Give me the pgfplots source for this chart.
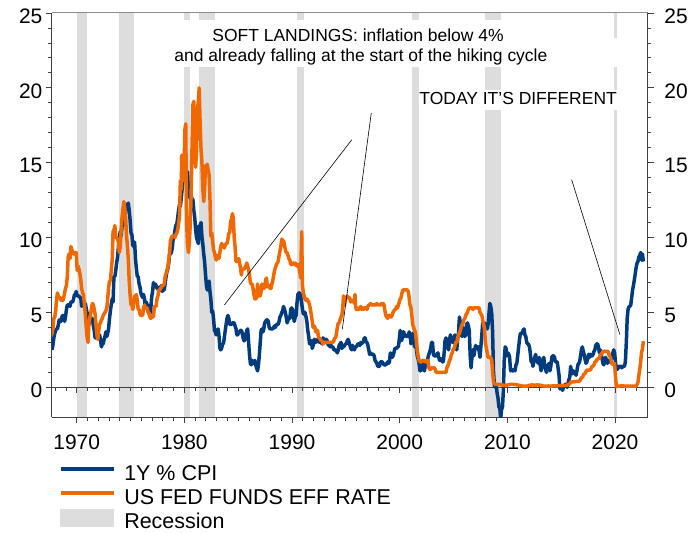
\documentclass[border=0pt]{standalone}
\usepackage{pgfplots}
\pgfplotsset{compat=1.18}
\usepackage{fontspec}
\setmainfont{Liberation Sans}
\definecolor{cpiblue}{RGB}{0,60,125}
\definecolor{ffor}{RGB}{240,105,0}
\definecolor{recgray}{RGB}{221,221,221}
\definecolor{axisgray}{RGB}{64,64,64}
\definecolor{topgray}{RGB}{140,140,140}
\pgfplotsset{
  cpileg/.style={legend image code/.code={\draw[cpiblue, line width=3.5pt] (0pt,0pt) -- (53pt,0pt);}},
  ffleg/.style={legend image code/.code={\draw[ffor, line width=3.5pt] (0pt,0pt) -- (53pt,0pt);}},
  recleg/.style={legend image code/.code={\fill[recgray] (0pt,-9pt) rectangle (53pt,7.5pt);}},
}
\begin{document}
\begin{tikzpicture}
\begin{axis}[
  name=main,
  scale only axis, width=597pt, height=405pt,
  xmin=1967.7, xmax=2023.05, ymin=-2, ymax=25,
  axis lines=left,
  axis line style={-, draw=axisgray, line width=1pt},
  xtick={1970,1980,...,2020},
  minor x tick num=9,
  ytick={0,5,...,25},
  minor y tick num=4,
  tick align=outside,
  major tick length=6pt, minor tick length=3.5pt,
  tick style={axisgray, line width=0.8pt},
  /pgf/number format/1000 sep={},
  /pgf/number format/assume math mode=true,
  ticklabel style={font=\fontsize{21}{21}\selectfont},
  yticklabel style={yshift=-3pt},
  xticklabel style={yshift=-8pt},
  legend style={draw=none, fill=none, at={(0,0)}, anchor=north west,
    xshift=7pt, yshift=-40pt, inner sep=0pt, outer sep=0pt, row sep=0pt,
    font=\fontsize{21.5}{21.5}\selectfont,
    nodes={inner sep=0pt, text height=23.5pt, text depth=0.5pt},
    /tikz/every odd column/.append style={column sep=9pt}},
  legend cell align=left,
]
% recessions
\addplot[fill=recgray, draw=none, forget plot] coordinates {(1970.00,-2) (1970.00,25) (1970.94,25) (1970.94,-2)} -- cycle;
\addplot[fill=recgray, draw=none, forget plot] coordinates {(1973.90,-2) (1973.90,25) (1975.29,25) (1975.29,-2)} -- cycle;
\addplot[fill=recgray, draw=none, forget plot] coordinates {(1980.00,-2) (1980.00,25) (1980.57,25) (1980.57,-2)} -- cycle;
\addplot[fill=recgray, draw=none, forget plot] coordinates {(1981.40,-2) (1981.40,25) (1982.84,25) (1982.84,-2)} -- cycle;
\addplot[fill=recgray, draw=none, forget plot] coordinates {(1990.48,-2) (1990.48,25) (1991.13,25) (1991.13,-2)} -- cycle;
\addplot[fill=recgray, draw=none, forget plot] coordinates {(2001.13,-2) (2001.13,25) (2001.77,25) (2001.77,-2)} -- cycle;
\addplot[fill=recgray, draw=none, forget plot] coordinates {(2007.89,-2) (2007.89,25) (2009.37,25) (2009.37,-2)} -- cycle;
\addplot[fill=recgray, draw=none, forget plot] coordinates {(2019.92,-2) (2019.92,25) (2020.20,25) (2020.20,-2)} -- cycle;
% white boxes behind annotations
\fill[white] (axis cs:1979.09,24.53) rectangle (axis cs:2018.44,22.93);
\fill[white] (axis cs:1979.09,23.33) rectangle (axis cs:2020.48,21.40);
\fill[white] (axis cs:2001.77,19.87) rectangle (axis cs:2020.48,18.53);
% zero line
\draw[axisgray, line width=1pt] (axis cs:1967.7,0) -- (axis cs:2023.05,0);
\pgfplotsinvokeforeach{1968,...,2022}{\draw[axisgray, line width=0.8pt] (axis cs:#1,0) -- ++(0pt,-3.5pt);}
\pgfplotsinvokeforeach{1970,1980,...,2020}{\draw[axisgray, line width=0.8pt] (axis cs:#1,0) -- ++(0pt,-6pt);}
% CPI
\addplot[cpiblue, line width=3.5pt, line join=round, cpileg] coordinates {
(1967.70,2.5) (1967.79,2.8) (1967.88,3.3) (1967.96,3.6) (1968.05,3.8) (1968.13,3.9) (1968.21,3.9) (1968.30,4.2) (1968.38,4.5) (1968.46,4.4) (1968.55,4.4) (1968.63,4.7) (1968.71,4.8) (1968.80,4.7)
(1968.88,4.4) (1968.96,4.7) (1969.05,5.2) (1969.13,5.5) (1969.21,5.5) (1969.30,5.5) (1969.38,5.4) (1969.46,5.7) (1969.55,5.7) (1969.63,5.7) (1969.71,5.9) (1969.80,6.2)
(1969.88,6.2) (1969.96,6.4) (1970.05,6.1) (1970.13,6.1) (1970.21,6.1) (1970.30,6.0) (1970.38,6.0) (1970.46,5.4) (1970.55,5.7) (1970.63,5.6) (1970.71,5.6) (1970.80,5.6)
(1970.88,5.3) (1970.96,5.0) (1971.05,4.7) (1971.13,4.2) (1971.21,4.4) (1971.30,4.6) (1971.38,4.4) (1971.46,4.6) (1971.55,4.1) (1971.63,3.8) (1971.71,3.3) (1971.80,3.3)
(1971.88,3.3) (1971.96,3.5) (1972.05,3.5) (1972.13,3.5) (1972.21,3.2) (1972.30,2.7) (1972.38,2.9) (1972.46,2.9) (1972.55,3.2) (1972.63,3.4) (1972.71,3.7) (1972.80,3.4)
(1972.88,3.6) (1972.96,3.9) (1973.05,4.6) (1973.13,5.1) (1973.21,5.5) (1973.30,5.9) (1973.38,5.7) (1973.46,7.4) (1973.55,7.4) (1973.63,7.8) (1973.71,8.3) (1973.80,8.7)
(1973.88,9.4) (1973.96,10.0) (1974.05,10.4) (1974.13,10.1) (1974.21,10.7) (1974.30,10.9) (1974.38,11.5) (1974.46,10.9) (1974.55,12.1) (1974.63,12.1) (1974.71,12.2) (1974.80,12.3)
(1974.88,11.8) (1974.96,11.2) (1975.05,10.3) (1975.13,10.2) (1975.21,9.5) (1975.30,9.4) (1975.38,9.7) (1975.46,8.6) (1975.55,7.9) (1975.63,7.4) (1975.71,7.4) (1975.80,6.9)
(1975.88,6.7) (1975.96,6.3) (1976.05,6.1) (1976.13,6.0) (1976.21,6.2) (1976.30,5.9) (1976.38,5.3) (1976.46,5.7) (1976.55,5.5) (1976.63,5.5) (1976.71,4.9) (1976.80,4.9)
(1976.88,5.2) (1976.96,6.0) (1977.05,6.4) (1977.13,7.0) (1977.21,6.7) (1977.30,6.9) (1977.38,6.8) (1977.46,6.6) (1977.55,6.6) (1977.63,6.4) (1977.71,6.7) (1977.80,6.7)
(1977.88,6.8) (1977.96,6.4) (1978.05,6.6) (1978.13,6.5) (1978.21,6.9) (1978.30,7.4) (1978.38,7.7) (1978.46,7.9) (1978.55,8.3) (1978.63,8.9) (1978.71,8.9) (1978.80,9.0)
(1978.88,9.3) (1978.96,9.9) (1979.05,10.1) (1979.13,10.5) (1979.21,10.8) (1979.30,10.9) (1979.38,11.3) (1979.46,11.8) (1979.55,12.2) (1979.63,12.1) (1979.71,12.6) (1979.80,13.3)
(1979.88,13.9) (1979.96,14.2) (1980.05,14.8) (1980.13,14.7) (1980.21,14.4) (1980.30,14.4) (1980.38,13.1) (1980.46,12.9) (1980.55,12.6) (1980.63,12.8) (1980.71,12.6) (1980.80,12.5)
(1980.88,11.8) (1980.96,11.4) (1981.05,10.5) (1981.13,10.0) (1981.21,9.8) (1981.30,9.6) (1981.38,10.8) (1981.46,10.8) (1981.55,11.0) (1981.63,10.1) (1981.71,9.6) (1981.80,8.9)
(1981.88,8.4) (1981.96,7.6) (1982.05,6.8) (1982.13,6.5) (1982.21,6.7) (1982.30,7.1) (1982.38,6.4) (1982.46,5.9) (1982.55,5.0) (1982.63,5.1) (1982.71,4.6) (1982.80,3.8)
(1982.88,3.7) (1982.96,3.5) (1983.05,3.6) (1983.13,3.9) (1983.21,3.5) (1983.30,2.6) (1983.38,2.5) (1983.46,2.6) (1983.55,2.9) (1983.63,2.9) (1983.71,3.3) (1983.80,3.8)
(1983.88,4.2) (1983.96,4.6) (1984.05,4.8) (1984.13,4.6) (1984.21,4.2) (1984.30,4.2) (1984.38,4.2) (1984.46,4.3) (1984.55,4.3) (1984.63,4.3) (1984.71,4.1) (1984.80,3.9)
(1984.88,3.5) (1984.96,3.5) (1985.05,3.7) (1985.13,3.7) (1985.21,3.8) (1985.30,3.8) (1985.38,3.6) (1985.46,3.3) (1985.55,3.1) (1985.63,3.2) (1985.71,3.5) (1985.80,3.8)
(1985.88,3.9) (1985.96,3.1) (1986.05,2.2) (1986.13,1.6) (1986.21,1.5) (1986.30,1.8) (1986.38,1.6) (1986.46,1.6) (1986.55,1.8) (1986.63,1.5) (1986.71,1.3) (1986.80,1.1)
(1986.88,1.5) (1986.96,2.1) (1987.05,3.0) (1987.13,3.8) (1987.21,3.9) (1987.30,3.7) (1987.38,3.9) (1987.46,4.3) (1987.55,4.4) (1987.63,4.5) (1987.71,4.5) (1987.80,4.4)
(1987.88,4.0) (1987.96,3.9) (1988.05,3.9) (1988.13,3.9) (1988.21,3.9) (1988.30,4.0) (1988.38,4.1) (1988.46,4.0) (1988.55,4.2) (1988.63,4.2) (1988.71,4.2) (1988.80,4.4)
(1988.88,4.7) (1988.96,4.8) (1989.05,5.0) (1989.13,5.1) (1989.21,5.4) (1989.30,5.2) (1989.38,5.0) (1989.46,4.7) (1989.55,4.3) (1989.63,4.5) (1989.71,4.7) (1989.80,4.6)
(1989.88,5.2) (1989.96,5.3) (1990.05,5.2) (1990.13,4.7) (1990.21,4.4) (1990.30,4.7) (1990.38,4.8) (1990.46,5.6) (1990.55,6.2) (1990.63,6.3) (1990.71,6.3) (1990.80,6.1)
(1990.88,5.7) (1990.96,5.3) (1991.05,4.9) (1991.13,4.9) (1991.21,5.0) (1991.30,4.7) (1991.38,4.4) (1991.46,3.8) (1991.55,3.4) (1991.63,2.9) (1991.71,3.0) (1991.80,3.1)
(1991.88,2.6) (1991.96,2.8) (1992.05,3.2) (1992.13,3.2) (1992.21,3.0) (1992.30,3.1) (1992.38,3.2) (1992.46,3.1) (1992.55,3.0) (1992.63,3.2) (1992.71,3.0) (1992.80,2.9)
(1992.88,3.3) (1992.96,3.2) (1993.05,3.1) (1993.13,3.2) (1993.21,3.2) (1993.30,3.0) (1993.38,2.8) (1993.46,2.8) (1993.55,2.7) (1993.63,2.8) (1993.71,2.7) (1993.80,2.7)
(1993.88,2.5) (1993.96,2.5) (1994.05,2.5) (1994.13,2.4) (1994.21,2.3) (1994.30,2.5) (1994.38,2.8) (1994.46,2.9) (1994.55,3.0) (1994.63,2.6) (1994.71,2.7) (1994.80,2.7)
(1994.88,2.8) (1994.96,2.9) (1995.05,2.9) (1995.13,3.1) (1995.21,3.2) (1995.30,3.0) (1995.38,2.8) (1995.46,2.6) (1995.55,2.5) (1995.63,2.8) (1995.71,2.6) (1995.80,2.5)
(1995.88,2.7) (1995.96,2.7) (1996.05,2.8) (1996.13,2.9) (1996.21,2.9) (1996.30,2.8) (1996.38,3.0) (1996.46,2.9) (1996.55,3.0) (1996.63,3.0) (1996.71,3.3) (1996.80,3.3)
(1996.88,3.0) (1996.96,3.0) (1997.05,2.8) (1997.13,2.5) (1997.21,2.2) (1997.30,2.3) (1997.38,2.2) (1997.46,2.2) (1997.55,2.2) (1997.63,2.1) (1997.71,1.8) (1997.80,1.7)
(1997.88,1.6) (1997.96,1.4) (1998.05,1.4) (1998.13,1.4) (1998.21,1.7) (1998.30,1.7) (1998.38,1.7) (1998.46,1.6) (1998.55,1.5) (1998.63,1.5) (1998.71,1.5) (1998.80,1.6)
(1998.88,1.7) (1998.96,1.6) (1999.05,1.7) (1999.13,2.3) (1999.21,2.1) (1999.30,2.0) (1999.38,2.1) (1999.46,2.3) (1999.55,2.6) (1999.63,2.6) (1999.71,2.6) (1999.80,2.7)
(1999.88,2.7) (1999.96,3.2) (2000.05,3.8) (2000.13,3.1) (2000.21,3.2) (2000.30,3.7) (2000.38,3.7) (2000.46,3.4) (2000.55,3.5) (2000.63,3.4) (2000.71,3.4) (2000.80,3.4)
(2000.88,3.7) (2000.96,3.5) (2001.05,2.9) (2001.13,3.3) (2001.21,3.6) (2001.30,3.2) (2001.38,2.7) (2001.46,2.7) (2001.55,2.6) (2001.63,2.1) (2001.71,1.9) (2001.80,1.6)
(2001.88,1.1) (2001.96,1.1) (2002.05,1.5) (2002.13,1.6) (2002.21,1.2) (2002.30,1.1) (2002.38,1.5) (2002.46,1.8) (2002.55,1.5) (2002.63,2.0) (2002.71,2.2) (2002.80,2.4)
(2002.88,2.6) (2002.96,3.0) (2003.05,3.0) (2003.13,2.2) (2003.21,2.1) (2003.30,2.1) (2003.38,2.1) (2003.46,2.2) (2003.55,2.3) (2003.63,2.0) (2003.71,1.8) (2003.80,1.9)
(2003.88,1.9) (2003.96,1.7) (2004.05,1.7) (2004.13,2.3) (2004.21,3.1) (2004.30,3.3) (2004.38,3.0) (2004.46,2.7) (2004.55,2.5) (2004.63,3.2) (2004.71,3.5) (2004.80,3.3)
(2004.88,3.0) (2004.96,3.0) (2005.05,3.1) (2005.13,3.5) (2005.21,2.8) (2005.30,2.5) (2005.38,3.2) (2005.46,3.6) (2005.55,4.7) (2005.63,4.3) (2005.71,3.5) (2005.80,3.4)
(2005.88,4.0) (2005.96,3.6) (2006.05,3.4) (2006.13,3.5) (2006.21,4.2) (2006.30,4.3) (2006.38,4.1) (2006.46,3.8) (2006.55,2.1) (2006.63,1.3) (2006.71,2.0) (2006.80,2.5)
(2006.88,2.1) (2006.96,2.4) (2007.05,2.8) (2007.13,2.6) (2007.21,2.7) (2007.30,2.7) (2007.38,2.4) (2007.46,2.0) (2007.55,2.8) (2007.63,3.5) (2007.71,4.3) (2007.80,4.1)
(2007.88,4.3) (2007.96,4.0) (2008.05,4.0) (2008.13,3.9) (2008.21,4.2) (2008.30,5.0) (2008.38,5.6) (2008.46,5.4) (2008.55,4.9) (2008.63,3.7) (2008.71,1.1) (2008.80,0.1)
(2008.88,0.0) (2008.96,0.2) (2009.05,-0.4) (2009.13,-0.7) (2009.21,-1.3) (2009.30,-1.4) (2009.38,-2.1) (2009.46,-1.5) (2009.55,-1.3) (2009.63,-0.2) (2009.71,1.8) (2009.80,2.7)
(2009.88,2.6) (2009.96,2.1) (2010.05,2.3) (2010.13,2.2) (2010.21,2.0) (2010.30,1.1) (2010.38,1.2) (2010.46,1.1) (2010.55,1.1) (2010.63,1.2) (2010.71,1.1) (2010.80,1.5)
(2010.88,1.6) (2010.96,2.1) (2011.05,2.7) (2011.13,3.2) (2011.21,3.6) (2011.30,3.6) (2011.38,3.6) (2011.46,3.8) (2011.55,3.9) (2011.63,3.5) (2011.71,3.4) (2011.80,3.0)
(2011.88,2.9) (2011.96,2.9) (2012.05,2.7) (2012.13,2.3) (2012.21,1.7) (2012.30,1.7) (2012.38,1.4) (2012.46,1.7) (2012.55,2.0) (2012.63,2.2) (2012.71,1.8) (2012.80,1.7)
(2012.88,1.6) (2012.96,2.0) (2013.05,1.5) (2013.13,1.1) (2013.21,1.4) (2013.30,1.8) (2013.38,2.0) (2013.46,1.5) (2013.55,1.2) (2013.63,1.0) (2013.71,1.2) (2013.80,1.5)
(2013.88,1.6) (2013.96,1.1) (2014.05,1.5) (2014.13,2.0) (2014.21,2.1) (2014.30,2.1) (2014.38,2.0) (2014.46,1.7) (2014.55,1.7) (2014.63,1.7) (2014.71,1.3) (2014.80,0.8)
(2014.88,-0.1) (2014.96,0.0) (2015.05,-0.1) (2015.13,-0.2) (2015.21,0.0) (2015.30,0.1) (2015.38,0.2) (2015.46,0.2) (2015.55,0.0) (2015.63,0.2) (2015.71,0.5) (2015.80,0.7)
(2015.88,1.4) (2015.96,1.0) (2016.05,0.9) (2016.13,1.1) (2016.21,1.0) (2016.30,1.0) (2016.38,0.8) (2016.46,1.1) (2016.55,1.5) (2016.63,1.6) (2016.71,1.7) (2016.80,2.1)
(2016.88,2.5) (2016.96,2.7) (2017.05,2.4) (2017.13,2.2) (2017.21,1.9) (2017.30,1.6) (2017.38,1.7) (2017.46,1.9) (2017.55,2.2) (2017.63,2.0) (2017.71,2.2) (2017.80,2.1)
(2017.88,2.1) (2017.96,2.2) (2018.05,2.4) (2018.13,2.5) (2018.21,2.8) (2018.30,2.9) (2018.38,2.9) (2018.46,2.7) (2018.55,2.3) (2018.63,2.5) (2018.71,2.2) (2018.80,1.9)
(2018.88,1.6) (2018.96,1.5) (2019.05,1.9) (2019.13,2.0) (2019.21,1.8) (2019.30,1.6) (2019.38,1.8) (2019.46,1.7) (2019.55,1.7) (2019.63,1.8) (2019.71,2.1) (2019.80,2.3)
(2019.88,2.5) (2019.96,2.3) (2020.05,1.6) (2020.13,1.3) (2020.21,1.2) (2020.30,1.3) (2020.38,1.4) (2020.46,1.4) (2020.55,1.4) (2020.63,1.3) (2020.71,1.4) (2020.80,1.4)
(2020.88,1.4) (2020.96,1.7) (2021.05,3.0) (2021.13,4.6) (2021.21,5.2) (2021.30,5.4) (2021.38,5.4) (2021.46,5.5) (2021.55,6.0) (2021.63,6.5) (2021.71,6.8) (2021.80,7.2)
(2021.88,7.6) (2021.96,8.0) (2022.05,8.3) (2022.13,8.4) (2022.21,8.7) (2022.30,8.8) (2022.38,9.0) (2022.46,8.5) (2022.55,8.9) (2022.63,8.4)
};
\addlegendentry{1Y \% CPI}
% Fed funds
\addplot[ffor, line width=3.5pt, line join=round, ffleg] coordinates {
(1967.70,3.5) (1967.79,3.9) (1967.88,4.6) (1967.96,4.7) (1968.05,5.1) (1968.13,5.8) (1968.21,6.3) (1968.30,6.1) (1968.38,6.0) (1968.46,6.0) (1968.55,5.8) (1968.63,5.9) (1968.71,5.8) (1968.80,6.0)
(1968.88,6.3) (1968.96,6.6) (1969.05,6.8) (1969.13,7.4) (1969.21,8.7) (1969.30,8.9) (1969.38,8.6) (1969.46,9.4) (1969.55,9.2) (1969.63,9.0) (1969.71,8.9) (1969.80,9.0)
(1969.88,9.0) (1969.96,9.0) (1970.05,7.8) (1970.13,8.1) (1970.21,7.9) (1970.30,7.6) (1970.38,7.2) (1970.46,6.6) (1970.55,6.3) (1970.63,6.2) (1970.71,5.6) (1970.80,4.9)
(1970.88,4.1) (1970.96,3.4) (1971.05,3.0) (1971.13,4.2) (1971.21,4.6) (1971.30,4.9) (1971.38,5.3) (1971.46,5.6) (1971.55,5.5) (1971.63,5.2) (1971.71,4.9) (1971.80,4.1)
(1971.88,3.5) (1971.96,3.2) (1972.05,3.8) (1972.13,4.2) (1972.21,4.3) (1972.30,4.5) (1972.38,4.6) (1972.46,4.8) (1972.55,4.9) (1972.63,5.0) (1972.71,5.1) (1972.80,5.3)
(1972.88,5.9) (1972.96,6.6) (1973.05,7.1) (1973.13,7.1) (1973.21,7.8) (1973.30,8.5) (1973.38,10.4) (1973.46,10.5) (1973.55,10.8) (1973.63,10.0) (1973.71,10.0) (1973.80,9.9)
(1973.88,9.7) (1973.96,9.0) (1974.05,9.4) (1974.13,10.5) (1974.21,11.3) (1974.30,11.9) (1974.38,12.4) (1974.46,12.0) (1974.55,11.3) (1974.63,10.1) (1974.71,9.5) (1974.80,8.5)
(1974.88,7.1) (1974.96,6.2) (1975.05,5.5) (1975.13,5.5) (1975.21,5.2) (1975.30,5.6) (1975.38,6.1) (1975.46,6.1) (1975.55,6.2) (1975.63,5.8) (1975.71,5.2) (1975.80,5.2)
(1975.88,4.9) (1975.96,4.8) (1976.05,4.8) (1976.13,4.8) (1976.21,5.3) (1976.30,5.5) (1976.38,5.3) (1976.46,5.3) (1976.55,5.3) (1976.63,5.0) (1976.71,5.0) (1976.80,4.7)
(1976.88,4.6) (1976.96,4.7) (1977.05,4.7) (1977.13,4.7) (1977.21,5.4) (1977.30,5.4) (1977.38,5.4) (1977.46,5.9) (1977.55,6.1) (1977.63,6.5) (1977.71,6.5) (1977.80,6.6)
(1977.88,6.7) (1977.96,6.8) (1978.05,6.8) (1978.13,6.9) (1978.21,7.4) (1978.30,7.6) (1978.38,7.8) (1978.46,8.0) (1978.55,8.5) (1978.63,9.0) (1978.71,9.8) (1978.80,10.0)
(1978.88,10.1) (1978.96,10.1) (1979.05,10.1) (1979.13,10.0) (1979.21,10.2) (1979.30,10.3) (1979.38,10.5) (1979.46,10.9) (1979.55,11.4) (1979.63,13.8) (1979.71,13.2) (1979.76,15.5) (1979.80,13.8)
(1979.88,13.8) (1979.96,14.1) (1980.05,17.2) (1980.13,17.6) (1980.21,11.0) (1980.30,9.5) (1980.38,9.0) (1980.46,9.6) (1980.55,10.9) (1980.63,12.8) (1980.71,15.9) (1980.80,18.9)
(1980.88,19.1) (1980.96,15.9) (1981.05,14.7) (1981.13,15.7) (1981.21,18.5) (1981.30,19.1) (1981.38,20.0) (1981.46,17.8) (1981.55,15.9) (1981.63,15.1) (1981.71,13.3) (1981.80,12.4)
(1981.88,13.2) (1981.96,14.8) (1982.05,14.7) (1982.13,14.9) (1982.21,14.5) (1982.30,14.2) (1982.38,12.6) (1982.46,10.1) (1982.55,10.3) (1982.63,9.7) (1982.71,9.2) (1982.80,9.0)
(1982.88,8.7) (1982.96,8.5) (1983.05,8.8) (1983.13,8.8) (1983.21,8.6) (1983.30,9.0) (1983.38,9.4) (1983.46,9.6) (1983.55,9.5) (1983.63,9.5) (1983.71,9.3) (1983.80,9.5)
(1983.88,9.6) (1983.96,9.6) (1984.05,9.9) (1984.13,10.3) (1984.21,10.3) (1984.30,11.1) (1984.38,11.2) (1984.46,11.6) (1984.55,11.3) (1984.63,10.0) (1984.71,9.4) (1984.80,8.4)
(1984.88,8.4) (1984.96,8.5) (1985.05,8.6) (1985.13,8.3) (1985.21,8.0) (1985.30,7.5) (1985.38,7.9) (1985.46,7.9) (1985.55,7.9) (1985.63,8.0) (1985.71,8.1) (1985.80,8.3)
(1985.88,8.1) (1985.96,7.9) (1986.05,7.5) (1986.13,7.0) (1986.21,6.9) (1986.30,6.9) (1986.38,6.6) (1986.46,6.2) (1986.55,5.9) (1986.63,5.9) (1986.71,6.0) (1986.80,6.9)
(1986.88,6.4) (1986.96,6.1) (1987.05,6.1) (1987.13,6.4) (1987.21,6.9) (1987.30,6.7) (1987.38,6.6) (1987.46,6.7) (1987.55,7.2) (1987.63,7.3) (1987.71,6.7) (1987.80,6.8)
(1987.88,6.8) (1987.96,6.6) (1988.05,6.6) (1988.13,6.9) (1988.21,7.1) (1988.30,7.5) (1988.38,7.8) (1988.46,8.0) (1988.55,8.2) (1988.63,8.3) (1988.71,8.4) (1988.80,8.8)
(1988.88,9.1) (1988.96,9.4) (1989.05,9.9) (1989.13,9.8) (1989.21,9.8) (1989.30,9.5) (1989.38,9.2) (1989.46,9.0) (1989.55,9.0) (1989.63,8.8) (1989.71,8.6) (1989.80,8.5)
(1989.88,8.2) (1989.96,8.2) (1990.05,8.3) (1990.13,8.3) (1990.21,8.2) (1990.30,8.3) (1990.38,8.2) (1990.46,8.1) (1990.55,8.2) (1990.63,8.1) (1990.71,7.8) (1990.80,7.3) (1990.90,10.4)
(1990.96,6.9) (1991.05,6.3) (1991.13,6.1) (1991.21,5.9) (1991.30,5.8) (1991.38,5.9) (1991.46,5.8) (1991.55,5.7) (1991.63,5.5) (1991.71,5.2) (1991.80,4.8) (1991.88,4.4)
(1991.96,4.0) (1992.05,4.1) (1992.13,4.0) (1992.21,3.7) (1992.30,3.8) (1992.38,3.8) (1992.46,3.3) (1992.55,3.3) (1992.63,3.2) (1992.71,3.1) (1992.80,3.1) (1992.88,2.9)
(1993.05,3.0) (1993.30,3.0) (1993.55,3.0) (1993.80,3.0)
(1993.88,3.1) (1993.96,3.3) (1994.05,3.3) (1994.13,3.6) (1994.21,4.0) (1994.30,4.3) (1994.38,4.3) (1994.46,4.5) (1994.55,4.7) (1994.63,4.8) (1994.71,5.3) (1994.78,6.1) (1994.84,5.5)
(1994.88,5.5) (1994.96,5.9) (1995.05,6.0) (1995.13,6.1) (1995.21,6.0) (1995.30,6.0) (1995.38,5.9) (1995.46,5.7) (1995.55,5.8) (1995.63,5.8) (1995.71,5.8) (1995.80,5.6) (1995.85,6.2)
(1995.88,5.6) (1995.96,5.2) (1996.05,5.3) (1996.13,5.2) (1996.21,5.2) (1996.30,5.3) (1996.38,5.4) (1996.46,5.2) (1996.55,5.3) (1996.63,5.2) (1996.71,5.3) (1996.80,5.3)
(1996.88,5.3) (1996.96,5.2) (1997.05,5.4) (1997.13,5.5) (1997.21,5.5) (1997.30,5.6) (1997.38,5.5) (1997.46,5.5) (1997.55,5.5) (1997.63,5.5) (1997.71,5.5) (1997.80,5.5)
(1997.88,5.6) (1997.96,5.5) (1998.05,5.5) (1998.13,5.5) (1998.21,5.5) (1998.30,5.6) (1998.38,5.5) (1998.46,5.6) (1998.55,5.5) (1998.63,5.1) (1998.71,4.8) (1998.80,4.7)
(1998.88,4.6) (1998.96,4.8) (1999.05,4.8) (1999.13,4.7) (1999.21,4.7) (1999.30,4.8) (1999.38,5.0) (1999.46,5.1) (1999.55,5.2) (1999.63,5.2) (1999.71,5.4) (1999.80,5.3)
(1999.88,5.5) (1999.96,5.7) (2000.05,5.9) (2000.13,6.0) (2000.21,6.3) (2000.30,6.5) (2000.38,6.5) (2000.46,6.5) (2000.55,6.5) (2000.63,6.5) (2000.71,6.5) (2000.80,6.4)
(2000.88,6.0) (2000.96,5.5) (2001.05,5.3) (2001.13,4.8) (2001.21,4.2) (2001.30,4.0) (2001.38,3.8) (2001.46,3.7) (2001.55,3.1) (2001.63,2.5) (2001.71,2.1) (2001.80,1.8)
(2001.88,1.7) (2001.96,1.7) (2002.05,1.7) (2002.13,1.8) (2002.21,1.8) (2002.30,1.8) (2002.38,1.7) (2002.46,1.7) (2002.55,1.8) (2002.63,1.8) (2002.71,1.3) (2002.80,1.2)
(2002.88,1.2) (2002.96,1.3) (2003.05,1.3) (2003.13,1.3) (2003.21,1.3) (2003.30,1.2) (2003.38,1.0) (2003.46,1.0) (2003.55,1.0) (2003.63,1.0) (2003.71,1.0) (2003.80,1.0)
(2003.88,1.0) (2003.96,1.0) (2004.05,1.0) (2004.13,1.0) (2004.21,1.0) (2004.30,1.0) (2004.38,1.3) (2004.46,1.4) (2004.55,1.6) (2004.63,1.8) (2004.71,1.9) (2004.80,2.2)
(2004.88,2.3) (2004.96,2.5) (2005.05,2.6) (2005.13,2.8) (2005.21,3.0) (2005.30,3.0) (2005.38,3.3) (2005.46,3.5) (2005.55,3.6) (2005.63,3.8) (2005.71,4.0) (2005.80,4.2)
(2005.88,4.3) (2005.96,4.5) (2006.05,4.6) (2006.13,4.8) (2006.21,4.9) (2006.30,5.0) (2006.38,5.2) (2006.46,5.3) (2006.55,5.3) (2006.63,5.3) (2006.71,5.3) (2006.80,5.2)
(2006.88,5.3) (2006.96,5.3) (2007.05,5.3) (2007.13,5.3) (2007.21,5.3) (2007.30,5.3) (2007.38,5.3) (2007.46,5.0) (2007.55,4.9) (2007.63,4.8) (2007.71,4.5) (2007.80,4.2)
(2007.88,3.9) (2007.96,3.0) (2008.05,2.6) (2008.13,2.3) (2008.21,2.0) (2008.30,2.0) (2008.38,2.0) (2008.46,2.0) (2008.55,1.8) (2008.63,1.0) (2008.71,0.4) (2008.80,0.2)
(2009.05,0.2) (2009.30,0.2) (2009.55,0.15) (2009.80,0.12) (2010.05,0.16) (2010.30,0.2) (2010.55,0.19) (2010.80,0.18) (2011.05,0.14) (2011.30,0.09) (2011.55,0.08) (2011.80,0.07)
(2012.05,0.13) (2012.30,0.16) (2012.55,0.14) (2012.80,0.16) (2013.05,0.14) (2013.30,0.09) (2013.55,0.08) (2013.80,0.09) (2014.05,0.08) (2014.30,0.1) (2014.55,0.09) (2014.80,0.12)
(2015.05,0.11) (2015.30,0.13) (2015.55,0.14) (2015.80,0.24) (2015.88,0.34) (2016.05,0.36) (2016.30,0.38) (2016.55,0.4) (2016.71,0.41) (2016.80,0.54)
(2016.88,0.65) (2016.96,0.66) (2017.05,0.79) (2017.13,0.9) (2017.21,0.91) (2017.30,1.04) (2017.38,1.15) (2017.55,1.15) (2017.71,1.16) (2017.80,1.3)
(2017.88,1.41) (2017.96,1.42) (2018.05,1.51) (2018.13,1.69) (2018.21,1.7) (2018.30,1.82) (2018.38,1.91) (2018.46,1.91) (2018.55,1.95) (2018.63,2.19) (2018.71,2.2) (2018.80,2.27)
(2018.88,2.4) (2019.05,2.41) (2019.21,2.39) (2019.38,2.4) (2019.46,2.13) (2019.55,2.04) (2019.63,1.83) (2019.71,1.55) (2019.80,1.55)
(2019.88,1.55) (2019.96,1.58) (2020.05,0.65) (2020.13,0.05) (2020.30,0.08) (2020.55,0.09) (2020.80,0.09) (2021.05,0.07) (2021.30,0.08) (2021.55,0.08) (2021.80,0.08)
(2021.88,0.08) (2021.96,0.08) (2022.05,0.2) (2022.13,0.33) (2022.21,0.77) (2022.30,1.21) (2022.38,1.68) (2022.46,2.33) (2022.55,2.56) (2022.63,3.08)
};
\addlegendentry{US FED FUNDS EFF RATE}
\addlegendimage{recleg}
\addlegendentry{Recession}
% annotations
\draw[black, line width=0.6pt] (axis cs:1983.72,5.5) -- (axis cs:1995.55,16.53);
\draw[black, line width=0.6pt] (axis cs:1997.36,18.31) -- (axis cs:1994.67,3.87);
\draw[black, line width=0.6pt] (axis cs:2015.97,13.87) -- (axis cs:2020.45,3.53);
\node[anchor=base, font=\fontsize{17.5}{17.5}\selectfont, inner sep=0pt] at (axis cs:1996.13,23.07) {SOFT LANDINGS: inflation below 4\%};
\node[anchor=base, font=\fontsize{17.5}{17.5}\selectfont, inner sep=0pt] at (axis cs:1996.40,21.73) {and already falling at the start of the hiking cycle};
\node[anchor=base, font=\fontsize{17.5}{17.5}\selectfont, inner sep=0pt] at (axis cs:2011.00,18.87) {TODAY IT'S DIFFERENT};
\end{axis}
\begin{axis}[
  scale only axis, width=597pt, height=405pt,
  xmin=1967.7, xmax=2023.05, ymin=-2, ymax=25,
  axis x line=none, axis y line=right,
  axis line style={-, draw=axisgray, line width=1pt},
  ytick={0,5,...,25},
  minor y tick num=4,
  tick align=outside,
  major tick length=6pt, minor tick length=3.5pt,
  tick style={axisgray, line width=0.8pt},
  /pgf/number format/assume math mode=true,
  ticklabel style={font=\fontsize{21}{21}\selectfont},
  yticklabel style={yshift=-3pt, xshift=7pt},
]
\end{axis}
\draw[topgray, line width=1pt] (main.north west) -- (main.north east);
\path ([xshift=-52pt,yshift=-116pt]main.south west) rectangle ([xshift=42pt,yshift=13pt]main.north east);
\end{tikzpicture}
\end{document}
